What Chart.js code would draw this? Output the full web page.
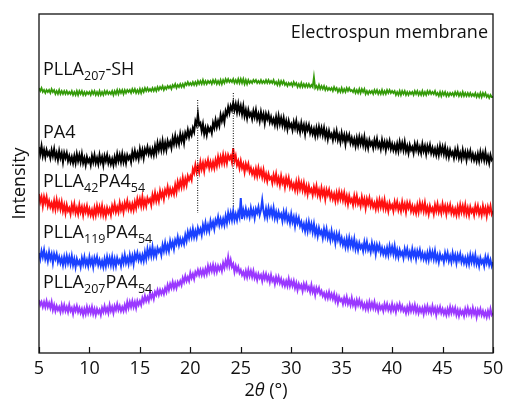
<!DOCTYPE html>
<html>
<head>
<meta charset="utf-8">
<script src="https://cdn.jsdelivr.net/npm/chart.js@4"></script>
<style>
  html, body { margin: 0; padding: 0; background: #fff; }
  canvas { display: block; }
</style>
</head>
<body>
<canvas id="xrd" width="505" height="401"></canvas>
<script>
  const angleStart = 5;
  const angleStep = 0.125;
  const xTicks = [5, 10, 15, 20, 25, 30, 35, 40, 45, 50];

  // intensities (offset traces), three degrees per row
  const pllaSH = [
    265,262,265,261,263,260,263,261, 263,260,264,261,263,259,262,259, 263,259,262,259,262,259,262,259,
    261,259,262,258,261,258,262,258, 262,259,262,258,261,258,261,259, 261,258,262,259,262,258,261,258,
    262,258,261,258,262,259,262,259, 261,259,262,258,262,259,263,259, 263,260,263,259,263,260,263,261,
    263,260,264,261,264,260,263,260, 264,260,264,261,265,262,265,262, 264,262,265,262,265,262,266,263,
    266,264,267,263,266,264,267,265, 267,264,268,266,269,265,268,266, 269,266,269,266,270,268,271,268,
    270,268,271,268,271,268,272,269, 272,269,273,269,272,269,272,270, 272,269,273,270,273,269,272,269,
    273,269,273,270,274,271,274,271, 273,271,274,270,273,270,274,270, 274,270,274,269,273,269,273,270,
    272,270,273,271,273,270,272,270, 273,270,272,270,273,270,273,270, 272,270,273,269,271,268,272,268,
    272,269,272,268,270,267,270,268, 270,267,271,268,270,266,269,266, 270,266,269,266,269,266,269,266,
    268,266,276,265,267,264,268,264, 267,264,267,263,266,263,265,263, 265,262,266,263,265,261,264,261,
    265,261,264,261,265,262,265,262, 263,261,264,260,263,260,264,260, 264,261,264,259,262,259,262,260,
    262,259,263,260,263,259,262,259, 263,259,262,259,263,260,263,260, 262,260,262,258,261,258,262,258,
    262,259,262,258,261,258,261,259, 261,258,262,259,262,258,261,258, 262,258,261,258,262,259,262,259,
    261,259,262,258,260,257,261,257, 261,258,261,257,260,257,260,258, 260,257,261,258,261,257,260,257,
    261,257,260,257,260,257,260,257, 259,257,260,256,259,256,260,256, 260,257,260,256,258,255,258,256,
    256
  ];
  const pa4 = [
    206,199,207,197,203,196,203,198, 201,195,203,197,204,195,200,193, 202,195,200,191,200,195,200,192,
    197,191,196,190,197,190,199,192, 198,191,199,190,195,188,196,191, 194,188,197,191,198,190,195,189,
    198,191,196,188,197,192,198,190, 195,189,194,188,196,190,199,192, 198,191,199,191,197,190,198,194,
    197,191,201,195,202,195,200,194, 204,197,203,195,204,200,206,199, 204,198,204,198,207,200,210,203,
    210,203,212,203,210,203,212,207, 211,205,215,209,217,209,215,209, 219,212,218,210,220,216,223,216,
    222,218,225,221,232,228,239,228, 230,222,229,219,225,218,226,222, 225,220,230,225,233,226,232,227,
    238,232,238,231,242,238,246,240, 247,243,250,243,249,241,249,241, 247,239,247,237,243,235,243,237,
    240,234,242,236,243,234,239,232, 241,234,239,230,239,234,239,231, 236,230,234,228,236,228,237,229,
    235,228,235,226,232,224,232,226, 229,223,231,225,232,223,228,221, 230,223,228,219,228,223,228,220,
    225,219,224,217,225,218,226,219, 225,218,225,216,222,214,222,216, 219,213,221,215,222,213,218,211,
    220,213,218,209,218,213,218,210, 215,209,214,207,215,208,216,209, 215,208,216,206,212,205,213,208,
    211,205,213,207,214,206,210,204, 213,206,211,203,211,206,212,204, 209,203,208,202,209,202,211,204,
    210,203,211,202,207,200,208,203, 206,200,209,203,209,201,206,200, 209,202,207,199,207,202,208,200,
    205,199,204,198,205,198,207,200, 206,199,206,197,203,196,203,198, 201,195,203,197,204,195,200,194,
    203,196,201,193,201,196,202,194, 199,193,198,192,199,192,201,194, 200,193,201,192,197,190,198,193,
    195
  ];
  const plla42 = [
    159,151,156,147,156,150,156,147, 152,146,150,144,152,144,153,145, 151,144,151,142,148,140,148,142,
    145,139,148,142,149,140,145,139, 148,141,146,138,146,141,147,139, 144,138,143,137,145,138,147,140,
    146,139,147,138,144,137,145,140, 144,138,147,142,149,141,146,141, 150,143,148,141,150,145,152,144,
    149,143,149,143,151,145,154,148, 154,147,156,147,153,147,155,151, 154,148,158,152,160,152,158,152,
    162,156,161,154,163,159,166,158, 164,159,164,159,168,161,171,165, 172,166,175,167,174,168,177,173,
    177,173,184,180,188,181,187,181, 191,184,190,182,191,187,193,185, 191,185,191,185,193,187,196,189,
    196,190,198,190,197,190,198,194, 197,191,205,192,197,188,192,185, 192,185,189,181,189,184,189,181,
    185,179,183,177,184,177,185,178, 183,176,183,174,179,172,179,174, 176,170,178,172,179,170,175,168,
    177,170,174,166,175,169,175,166, 171,165,169,163,171,163,172,164, 170,163,170,161,167,159,167,161,
    164,158,166,160,167,158,163,156, 165,158,163,154,163,158,163,155, 160,154,159,152,160,153,161,154,
    160,153,160,151,157,149,157,151, 154,148,157,150,157,149,153,147, 156,149,154,145,154,149,155,147,
    152,146,150,144,152,145,153,146, 152,145,153,144,149,142,150,145, 148,142,151,145,151,143,148,142,
    151,144,149,141,150,145,150,142, 147,141,146,140,148,141,150,143, 149,142,150,141,146,139,147,142,
    145,139,148,142,149,141,146,140, 149,142,147,139,147,142,148,140, 145,139,144,138,146,139,148,141,
    147,140,148,139,145,138,146,141, 144,138,147,141,147,139,144,138, 147,140,145,137,146,141,147,139,
    142
  ];
  const plla119 = [
    100,94,102,96,103,94,99,92, 101,94,99,90,99,94,99,91, 96,90,95,88,96,89,97,90,
    96,89,97,88,94,86,94,89, 92,86,95,89,96,88,93,87, 96,89,94,86,95,90,96,88,
    93,87,92,86,94,87,96,89, 95,88,96,87,94,87,95,90, 93,87,96,90,98,90,95,89,
    98,91,97,89,99,94,100,93, 98,92,98,92,101,94,104,97, 104,97,106,97,103,97,105,101,
    104,98,108,102,110,102,108,102, 112,106,111,104,113,109,116,108, 114,109,114,109,118,112,121,115,
    122,116,124,116,122,116,125,120, 124,118,128,122,130,122,128,122, 132,126,131,124,133,129,136,128,
    134,128,134,128,137,130,140,133, 140,133,142,133,139,133,141,136, 155,134,143,137,144,137,142,136,
    145,138,143,135,144,140,146,138, 143,153,142,136,144,136,145,138, 144,137,145,135,141,134,141,136,
    139,132,141,134,141,132,137,130, 139,131,136,127,136,130,135,127, 131,124,129,122,130,122,131,123,
    129,121,129,119,125,117,125,119, 122,115,124,117,124,115,120,113, 122,114,119,110,119,113,119,110,
    115,108,113,106,114,106,115,107, 113,106,114,104,110,103,110,105, 108,102,111,104,111,103,107,101,
    110,103,108,99,108,103,108,100, 105,99,104,98,105,98,107,100, 106,99,107,97,103,96,103,98,
    101,95,104,98,104,96,101,95, 104,97,102,94,102,97,103,95, 100,94,99,93,100,93,102,95,
    101,94,102,93,98,91,99,94, 97,91,100,94,100,92,97,91, 100,93,98,90,98,93,99,91,
    96,90,95,89,96,89,98,91, 97,90,98,89,94,87,95,90, 93,87,96,90,96,88,93,87,
    91
  ];
  const plla207 = [
    53,48,51,46,51,46,52,46, 50,45,51,43,48,42,47,43, 46,41,48,42,48,42,46,41,
    48,42,45,39,46,42,47,41, 45,40,44,38,44,39,46,40, 45,40,46,39,44,38,44,40,
    43,38,45,41,47,41,45,40, 48,42,46,40,47,43,49,43, 47,42,46,42,48,43,51,45,
    51,46,52,46,51,45,52,48, 52,48,55,51,57,52,56,52, 60,55,59,54,61,58,63,58,
    63,59,63,59,65,61,68,63, 69,65,71,65,70,65,71,68, 72,68,75,71,77,72,76,72,
    80,75,79,74,81,78,83,78, 83,78,83,78,84,79,87,81, 87,82,88,81,87,81,87,83,
    87,82,90,85,92,87,96,87, 93,86,89,81,87,82,86,80, 83,78,81,76,82,76,83,77,
    82,76,82,75,79,73,79,75, 78,72,79,74,79,73,77,71, 78,72,75,69,76,71,76,70,
    74,68,72,67,72,67,74,67, 72,67,72,65,70,63,69,65, 68,62,69,64,69,63,66,61,
    68,61,65,58,65,61,65,59, 62,57,60,55,60,55,61,55, 59,54,59,52,57,50,56,52,
    54,49,55,50,56,49,53,48, 55,48,52,46,53,48,53,47, 51,45,49,44,50,44,51,45,
    50,45,51,44,48,42,48,44, 47,42,49,44,49,43,47,42, 49,43,47,41,48,44,49,43,
    47,42,45,40,46,41,48,42, 47,42,48,41,46,40,45,41, 45,39,46,41,47,41,45,40,
    47,41,45,38,45,41,46,40, 44,39,43,38,44,39,46,40, 45,40,45,38,43,37,43,39,
    42,37,44,39,45,39,43,38, 45,39,43,36,43,39,44,38, 42,37,41,36,42,37,44,38,
    40
  ];

  // dotted guide lines at the PA4 reflections
  const markerAngles = [20.73, 24.26];
  const markerTop = [253, 260];
  const markerBottom = [140, 146];

  const angles = pa4.map((_, i) => angleStart + i * angleStep);

  const FONT = '"Open Sans", "Noto Sans", sans-serif';
  const SIZE = 18;

  function trace(data, color, width) {
    return {
      data: data,
      borderColor: color,
      borderWidth: width,
      pointRadius: 0,
      tension: 0,
      order: 1
    };
  }

  function marker(i) {
    return {
      data: [{x: markerAngles[i], y: markerTop[i]}, {x: markerAngles[i], y: markerBottom[i]}],
      borderColor: '#000',
      borderWidth: 1,
      borderDash: [1, 1.5],
      pointRadius: 0,
      order: 0
    };
  }

  const labelsPlugin = {
    id: 'xrdText',
    afterDraw(chart) {
      const ctx = chart.ctx;
      const area = chart.chartArea;
      const xs = chart.scales.x;

      // frame round the plot
      ctx.save();
      ctx.strokeStyle = '#111';
      ctx.lineWidth = 1.3;
      ctx.strokeRect(area.left, area.top, area.right - area.left, area.bottom - area.top);

      // inward ticks on the bottom axis
      ctx.lineWidth = 1.2;
      ctx.beginPath();
      xTicks.forEach(v => {
        const px = Math.round(xs.getPixelForValue(v)) + 0.5;
        ctx.moveTo(px, area.bottom);
        ctx.lineTo(px, area.bottom - 6);
      });
      ctx.stroke();

      function fontFor(kind) {
        if (kind === 1) return '12.5px ' + FONT;
        if (kind === 2) return 'italic ' + SIZE + 'px ' + FONT;
        return SIZE + 'px ' + FONT;
      }

      function drawParts(parts, x, y) {
        ctx.textBaseline = 'alphabetic';
        ctx.textAlign = 'left';
        parts.forEach(p => {
          ctx.font = fontFor(p[1]);
          ctx.fillText(p[0], x, p[1] === 1 ? y + 4.5 : y);
          x += ctx.measureText(p[0]).width;
        });
      }

      ctx.fillStyle = '#111';
      drawParts([['PLLA', 0], ['207', 1], ['-SH', 0]], 43, 75);
      drawParts([['PA4', 0]], 43, 138);
      drawParts([['PLLA', 0], ['42', 1], ['PA4', 0], ['54', 1]], 43, 187);
      drawParts([['PLLA', 0], ['119', 1], ['PA4', 0], ['54', 1]], 43, 238);
      drawParts([['PLLA', 0], ['207', 1], ['PA4', 0], ['54', 1]], 43, 288);

      ctx.font = fontFor(0);
      ctx.textAlign = 'right';
      ctx.fillText('Electrospun membrane', 488, 37.5);

      // x-axis title with italic theta
      const parts = [['2', 0], ['θ', 2], [' (°)', 0]];
      let w = 0;
      parts.forEach(p => {
        ctx.font = fontFor(p[1]);
        w += ctx.measureText(p[0]).width;
      });
      drawParts(parts, (area.left + area.right) / 2 - w / 2, 395.5);
      ctx.restore();
    }
  };

  new Chart(document.getElementById('xrd'), {
    type: 'line',
    data: {
      labels: angles,
      datasets: [
        marker(0),
        marker(1),
        trace(pllaSH, '#339a08', 1.8),
        trace(pa4, '#000000', 2),
        trace(plla42, '#ff1010', 2),
        trace(plla119, '#1a40ff', 2),
        trace(plla207, '#9a38ff', 2)
      ]
    },
    options: {
      responsive: false,
      animation: false,
      events: [],
      layout: { padding: { left: 0, right: 12, top: 14, bottom: 22 } },
      plugins: { legend: { display: false }, tooltip: { enabled: false } },
      scales: {
        x: {
          type: 'linear',
          min: 5,
          max: 50,
          afterBuildTicks: s => { s.ticks = xTicks.map(v => ({ value: v })); },
          afterFit: s => { s.height = 26; s.paddingLeft = 0; s.paddingRight = 0; },
          grid: { display: false, drawTicks: false },
          border: { display: false },
          ticks: {
            color: '#111',
            padding: 7,
            maxRotation: 0,
            font: { family: FONT, size: SIZE, lineHeight: 1 }
          }
        },
        y: {
          min: 0,
          max: 339,
          afterFit: s => { s.width = 39; s.paddingTop = 0; s.paddingBottom = 0; },
          grid: { display: false, drawTicks: false },
          border: { display: false },
          ticks: { display: false },
          title: {
            display: true,
            text: 'Intensity',
            color: '#111',
            padding: { top: 9.5, bottom: 9 },
            font: { family: FONT, size: SIZE, lineHeight: 1.2 }
          }
        }
      }
    },
    plugins: [labelsPlugin]
  });
</script>
</body>
</html>
